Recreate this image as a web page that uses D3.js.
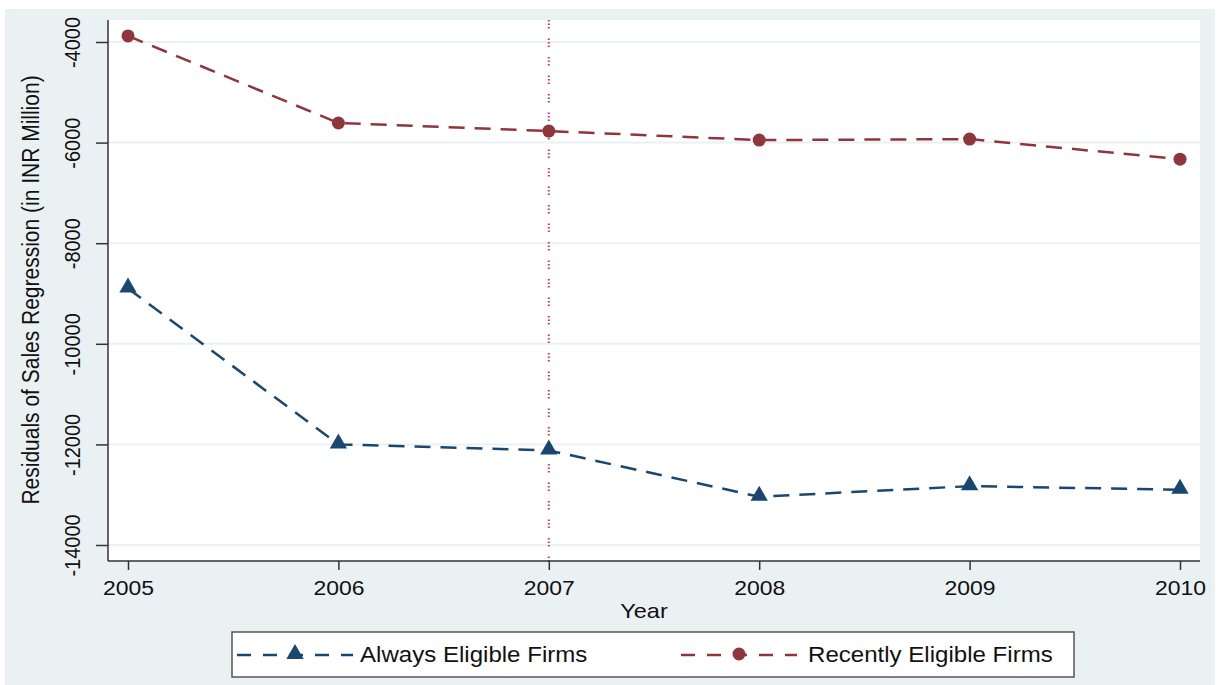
<!DOCTYPE html>
<html><head><meta charset="utf-8">
<script src="https://cdn.jsdelivr.net/npm/d3@7"></script>
<style>
html,body{margin:0;padding:0;background:#fff;}
svg text{font-family:"Liberation Sans",Arial,sans-serif;}
</style></head>
<body>
<svg id="c" width="1218" height="685"></svg>
<script>
const years = [2005, 2006, 2007, 2008, 2009, 2010];
const alwaysEligible = [-8900, -12000, -12120, -13040, -12830, -12900];
const recentlyEligible = [-3880, -5610, -5770, -5950, -5930, -6330];
const yTicks = [-4000, -6000, -8000, -10000, -12000, -14000];
const eventYear = 2007;
const seriesNames = ["Always Eligible Firms", "Recently Eligible Firms"];

const svg = d3.select("#c");
const navy = "#1a476f", maroon = "#90353b", bg = "#eaf1f3", ink = "#111";
const SX = 1.12; // horizontal stretch of the reference's text

svg.append("rect").attr("x",5).attr("y",9).attr("width",1210).attr("height",676).attr("fill",bg);
const plot = {l:108, r:1200, t:20, b:561};
svg.append("rect").attr("x",plot.l).attr("y",plot.t).attr("width",plot.r-plot.l).attr("height",plot.b-plot.t).attr("fill","#fff");

const x = d3.scaleLinear().domain([2005,2010]).range([128,1180]);
const y = d3.scaleLinear().domain([-14000,-4000]).range([545,42]);

// gridlines
svg.append("g").selectAll("line").data(yTicks).join("line")
  .attr("x1",plot.l).attr("x2",plot.r).attr("y1",d=>y(d)).attr("y2",d=>y(d))
  .attr("stroke",bg).attr("stroke-width",2);

// event line
svg.append("line").attr("x1",x(eventYear)).attr("x2",x(eventYear)).attr("y1",plot.t).attr("y2",plot.b)
  .attr("stroke","#d0345a").attr("stroke-width",2).attr("stroke-dasharray","1.5,2,1.5,2,1.5,10");

// y axis
const yAxis = d3.axisLeft(y).tickValues(yTicks).tickFormat(d=>String(d)).tickSize(12).tickSizeOuter(0);
const gy = svg.append("g").attr("transform",`translate(${plot.l},0)`).call(yAxis);
gy.select(".domain").attr("d",`M0,${plot.t}V${plot.b}`).attr("stroke","#333").attr("stroke-width",1.5);
gy.selectAll(".tick line").attr("stroke","#333").attr("stroke-width",1.5);
gy.selectAll(".tick text").attr("font-size",20).attr("fill",ink)
  .attr("x",0).attr("y",0).attr("dy",null)
  .attr("text-anchor","middle")
  .attr("transform",`translate(-28,0) rotate(-90) scale(1,${SX})`);

// x axis
const xAxis = d3.axisBottom(x).tickValues(years).tickFormat(d=>String(d)).tickSize(9).tickSizeOuter(0);
const gx = svg.append("g").attr("transform",`translate(0,${plot.b})`).call(xAxis);
gx.select(".domain").attr("d",`M${plot.l},0H${plot.r}`).attr("stroke","#333").attr("stroke-width",1.5);
gx.selectAll(".tick line").attr("stroke","#333").attr("stroke-width",1.5);
gx.selectAll(".tick text").attr("font-size",20.5).attr("fill",ink).attr("y",0).attr("dy",null)
  .attr("transform",`translate(0,34) scale(${SX},1)`);

// axis titles
svg.append("text").attr("transform",`translate(644,618) scale(${SX},1)`).attr("text-anchor","middle")
  .attr("font-size",21).attr("fill",ink).text("Year");
svg.append("text").attr("transform",`translate(39,290) rotate(-90) scale(1,${SX})`).attr("text-anchor","middle")
  .attr("font-size",21).attr("fill",ink).text("Residuals of Sales Regression (in INR Million)");

// lines
const line = d3.line().x((d,i)=>x(years[i])).y(d=>y(d));
const tri = d3.symbol().type(d3.symbolTriangle).size(130);
function drawSeries(vals,color,marker){
  svg.append("path").datum(vals).attr("d",line).attr("fill","none").attr("stroke",color)
    .attr("stroke-width",2.5).attr("stroke-dasharray","16,10");
  const g = svg.append("g");
  if(marker==="tri"){
    g.selectAll("path").data(vals).join("path").attr("d",tri)
      .attr("transform",(d,i)=>`translate(${x(years[i])},${y(d)-1})`).attr("fill",color);
  } else {
    g.selectAll("circle").data(vals).join("circle").attr("cx",(d,i)=>x(years[i])).attr("cy",d=>y(d))
      .attr("r",6.5).attr("fill",color);
  }
}
drawSeries(alwaysEligible,navy,"tri");
drawSeries(recentlyEligible,maroon,"circ");

// legend
svg.append("rect").attr("x",232).attr("y",632).attr("width",842).attr("height",45)
  .attr("fill","#fff").attr("stroke","#555").attr("stroke-width",1.5);
const leg = [{name:seriesNames[0],color:navy,m:"tri",x0:237,tx:360},{name:seriesNames[1],color:maroon,m:"circ",x0:681,tx:808}];
leg.forEach(l=>{
  svg.append("line").attr("x1",l.x0).attr("x2",l.x0+116).attr("y1",655).attr("y2",655)
    .attr("stroke",l.color).attr("stroke-width",2.5).attr("stroke-dasharray","14,12");
  if(l.m==="tri") svg.append("path").attr("d",tri).attr("transform",`translate(${l.x0+58},654)`).attr("fill",l.color);
  else svg.append("circle").attr("cx",l.x0+58).attr("cy",654).attr("r",6.5).attr("fill",l.color);
  svg.append("text").attr("transform",`translate(${l.tx},662) scale(${SX},1)`).attr("font-size",21.5).attr("fill",ink).text(l.name);
});
</script>
</body></html>
